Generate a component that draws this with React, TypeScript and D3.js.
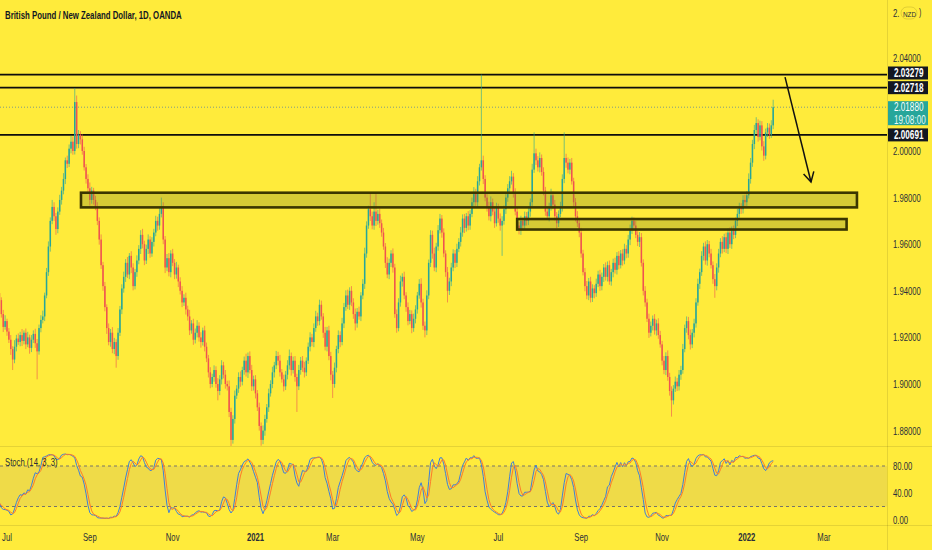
import React, { useMemo } from 'react';
import * as d3 from 'd3';

// ---------- DATA ----------
const START_DATE = '2020-06-25'; // first daily bar (weekdays only)
const firstOpen = 1.939;

const closes = [
  1.9360, 1.9300, 1.9245, 1.9270, 1.9225, 1.9190, 1.9150, 1.9105, 1.9160, 1.9195,
  1.9180, 1.9210, 1.9185, 1.9220, 1.9170, 1.9200, 1.9155, 1.9190, 1.9215, 1.9175,
  1.9140, 1.9240, 1.9275, 1.9290, 1.9380, 1.9480, 1.9590, 1.9700, 1.9760, 1.9720,
  1.9665, 1.9740, 1.9790, 1.9830, 1.9880, 1.9960, 1.9945, 2.0010, 2.0040, 2.0000,
  2.0210, 2.0030, 2.0070, 2.0050, 2.0000, 1.9930, 1.9880, 1.9840, 1.9790, 1.9830,
  1.9790, 1.9760, 1.9700, 1.9620, 1.9510, 1.9420, 1.9330, 1.9240, 1.9180, 1.9220,
  1.9150, 1.9180, 1.9120, 1.9220, 1.9320, 1.9410, 1.9460, 1.9520, 1.9470, 1.9550,
  1.9500, 1.9420, 1.9480, 1.9530, 1.9580, 1.9640, 1.9600, 1.9530, 1.9580, 1.9620,
  1.9560, 1.9610, 1.9650, 1.9700, 1.9680, 1.9730, 1.9760, 1.9620, 1.9500, 1.9540,
  1.9480, 1.9560, 1.9520, 1.9470, 1.9500, 1.9440, 1.9400, 1.9350, 1.9370, 1.9320,
  1.9290, 1.9230, 1.9260, 1.9190, 1.9220, 1.9250, 1.9200, 1.9180, 1.9230, 1.9160,
  1.9110, 1.9050, 1.9000, 1.9030, 1.9060, 1.9000, 1.8970, 1.9020, 1.9080, 1.9040,
  1.9000, 1.8990, 1.8880, 1.8760, 1.8850, 1.8950, 1.8980, 1.9030, 1.9010, 1.9060,
  1.9100, 1.9050, 1.9120, 1.9060, 1.8990, 1.9020, 1.8960, 1.8900, 1.8820, 1.8760,
  1.8800, 1.8850, 1.8900, 1.8960, 1.9000, 1.9050, 1.9080, 1.9120, 1.9100, 1.9050,
  1.9020, 1.8990, 1.9040, 1.9080, 1.9120, 1.9060, 1.9100, 1.9030, 1.8990, 1.9060,
  1.9100, 1.9070, 1.9050, 1.9100, 1.9160, 1.9200, 1.9180, 1.9240, 1.9290, 1.9270,
  1.9340, 1.9290, 1.9220, 1.9160, 1.9230, 1.9120, 1.9040, 1.9000, 1.9070, 1.9150,
  1.9210, 1.9180, 1.9260, 1.9330, 1.9380, 1.9340, 1.9400, 1.9350, 1.9300, 1.9260,
  1.9310, 1.9290, 1.9380, 1.9430, 1.9560, 1.9680, 1.9750, 1.9720, 1.9680, 1.9740,
  1.9700, 1.9730, 1.9690, 1.9650, 1.9590, 1.9520, 1.9470, 1.9520, 1.9560, 1.9500,
  1.9300, 1.9240, 1.9350, 1.9440, 1.9460, 1.9380, 1.9330, 1.9270, 1.9300, 1.9240,
  1.9280, 1.9320, 1.9380, 1.9430, 1.9350, 1.9250, 1.9230, 1.9380, 1.9520, 1.9640,
  1.9560, 1.9500, 1.9590, 1.9660, 1.9710, 1.9650, 1.9560, 1.9480, 1.9400, 1.9440,
  1.9500, 1.9560, 1.9520, 1.9580, 1.9610, 1.9650, 1.9710, 1.9670, 1.9720, 1.9680,
  1.9730, 1.9780, 1.9820, 1.9780, 1.9870, 1.9930, 1.9960, 1.9880, 1.9800, 1.9760,
  1.9720, 1.9780, 1.9740, 1.9690, 1.9760, 1.9710, 1.9680, 1.9700, 1.9750, 1.9800,
  1.9840, 1.9870, 1.9890, 1.9820, 1.9740, 1.9680, 1.9660, 1.9700, 1.9680, 1.9720,
  1.9700, 1.9740, 1.9780, 1.9920, 1.9990, 1.9960, 1.9930, 1.9970, 1.9910, 1.9830,
  1.9740, 1.9720, 1.9760, 1.9810, 1.9770, 1.9720, 1.9690, 1.9730, 1.9760, 1.9880,
  1.9970, 1.9950, 1.9920, 1.9950, 1.9870, 1.9780, 1.9720, 1.9690, 1.9650, 1.9560,
  1.9480, 1.9420, 1.9380, 1.9440, 1.9370, 1.9410, 1.9390, 1.9430, 1.9470, 1.9420,
  1.9460, 1.9500, 1.9460, 1.9510, 1.9440, 1.9480, 1.9520, 1.9490, 1.9550, 1.9510,
  1.9560, 1.9530, 1.9580, 1.9560, 1.9620, 1.9660, 1.9700, 1.9680, 1.9640, 1.9610,
  1.9630, 1.9520, 1.9400, 1.9350, 1.9280, 1.9220, 1.9250, 1.9280, 1.9230, 1.9260,
  1.9210, 1.9170, 1.9100, 1.9060, 1.9120, 1.9030, 1.8970, 1.8930, 1.8980, 1.9010,
  1.8990, 1.9040, 1.9060, 1.9150, 1.9240, 1.9270, 1.9210, 1.9170, 1.9220, 1.9260,
  1.9350, 1.9430, 1.9480, 1.9550, 1.9590, 1.9530, 1.9600, 1.9560, 1.9510, 1.9450,
  1.9420, 1.9500, 1.9560, 1.9610, 1.9580, 1.9630, 1.9580, 1.9650, 1.9600, 1.9660,
  1.9640, 1.9700, 1.9730, 1.9760, 1.9750, 1.9790, 1.9780, 1.9810, 1.9880, 1.9950,
  2.0030, 2.0090, 2.0120, 2.0060, 2.0110, 2.0020, 1.9980, 2.0080, 2.0100, 2.0070,
  2.0110, 2.0188,
];

// upper / lower wick lengths in pips (0.0001)
const upWick = [
  30, 12, 18, 25, 10, 15, 20, 12, 28, 16, 22, 14, 26, 10, 18, 24, 12, 20, 15, 22,
  18, 15, 20, 25, 12, 18, 22, 15, 30, 20, 14, 18, 22, 16, 25, 12, 20, 18, 26, 22,
  60, 28, 20, 15, 22, 18, 14, 20, 25, 16, 12, 18, 20, 15, 22, 14, 18, 12, 20, 16,
  24, 18, 12, 20, 15, 18, 22, 16, 25, 12, 20, 18, 14, 22, 16, 20, 26, 15, 18, 22,
  14, 20, 16, 22, 18, 25, 40, 20, 15, 18, 22, 14, 20, 16, 24, 12, 18, 20, 15, 22,
  16, 28, 14, 20, 18, 24, 15, 22, 12, 20, 18, 15, 22, 14, 20, 16, 25, 18, 22, 15,
  20, 14, 25, 18, 16, 22, 15, 20, 24, 14, 18, 30, 15, 20, 22, 16, 18, 14, 20, 15,
  22, 18, 14, 20, 16, 24, 15, 22, 18, 25, 14, 20, 16, 22, 28, 15, 18, 20, 14, 22,
  16, 20, 25, 14, 18, 22, 15, 20, 24, 16, 22, 18, 14, 25, 15, 20, 18, 16, 22, 14,
  20, 16, 24, 18, 22, 25, 15, 20, 18, 24, 16, 22, 14, 20, 25, 18, 15, 70, 20, 40,
  80, 18, 22, 16, 20, 15, 24, 18, 14, 22, 16, 20, 18, 25, 15, 22, 14, 20, 18, 16,
  22, 18, 15, 20, 24, 16, 18, 22, 14, 20, 18, 25, 16, 22, 20, 15, 18, 14, 22, 16,
  20, 18, 15, 22, 16, 24, 18, 20, 14, 22, 16, 20, 25, 18, 22, 15, 368, 20, 16, 18,
  22, 25, 16, 20, 18, 14, 22, 20, 16, 24, 18, 22, 25, 15, 20, 18, 16, 22, 14, 20,
  18, 22, 16, 25, 90, 20, 18, 24, 15, 20, 16, 22, 18, 28, 16, 20, 18, 15, 22, 20,
  110, 18, 22, 16, 20, 15, 18, 22, 14, 20, 16, 18, 22, 15, 20, 18, 14, 22, 16, 20,
  18, 15, 22, 16, 20, 14, 18, 22, 16, 20, 15, 18, 22, 16, 20, 24, 18, 15, 20, 16,
  22, 18, 15, 20, 16, 22, 18, 14, 20, 16, 22, 18, 15, 20, 16, 24, 18, 20, 15, 22,
  16, 20, 18, 22, 15, 20, 18, 24, 16, 20, 18, 22, 15, 20, 16, 22, 18, 14, 20, 16,
  22, 18, 20, 16, 24, 15, 20, 18, 22, 16, 20, 14, 22, 18, 16, 20, 22, 18, 24, 20,
  18, 22, 25, 16, 20, 18, 22, 16, 20, 18, 22, 32,
];
const downWick = [
  20, 15, 22, 12, 18, 14, 25, 45, 16, 20, 12, 18, 22, 15, 20, 12, 25, 18, 14, 20,
  120, 14, 18, 15, 20, 12, 16, 22, 14, 20, 25, 18, 14, 20, 16, 22, 18, 14, 20, 16,
  15, 20, 18, 22, 16, 14, 20, 18, 24, 16, 20, 14, 18, 22, 16, 20, 18, 25, 14, 20,
  18, 22, 50, 16, 14, 20, 18, 22, 15, 20, 24, 18, 14, 20, 16, 22, 18, 20, 15, 22,
  18, 14, 20, 16, 22, 18, 15, 20, 24, 16, 18, 22, 14, 20, 18, 24, 16, 20, 15, 22,
  18, 20, 14, 22, 16, 20, 18, 24, 15, 20, 16, 22, 18, 14, 20, 16, 40, 18, 22, 16,
  20, 18, 22, 30, 16, 20, 14, 18, 22, 16, 20, 18, 24, 15, 20, 18, 22, 16, 20, 25,
  18, 22, 16, 20, 14, 18, 22, 16, 20, 18, 14, 22, 16, 20, 18, 24, 15, 20, 110, 16,
  20, 18, 22, 16, 14, 20, 18, 22, 16, 20, 18, 14, 22, 16, 20, 18, 24, 60, 16, 20,
  18, 22, 14, 20, 16, 18, 22, 16, 20, 30, 18, 14, 20, 16, 22, 18, 14, 20, 16, 18,
  22, 16, 20, 18, 14, 22, 16, 20, 18, 22, 16, 20, 14, 18, 22, 16, 20, 18, 14, 22,
  16, 20, 18, 14, 22, 18, 30, 20, 16, 18, 22, 16, 20, 18, 14, 22, 16, 20, 50, 18,
  20, 16, 22, 18, 14, 20, 18, 22, 16, 20, 18, 14, 22, 16, 20, 18, 14, 22, 16, 20,
  18, 22, 16, 20, 14, 18, 22, 130, 16, 20, 18, 22, 14, 20, 16, 22, 18, 20, 16, 14,
  20, 18, 22, 16, 14, 20, 18, 22, 16, 20, 18, 14, 22, 16, 20, 18, 22, 16, 14, 20,
  18, 22, 16, 20, 14, 18, 22, 16, 20, 18, 14, 22, 16, 20, 20, 18, 22, 16, 14, 20,
  18, 22, 16, 20, 14, 18, 22, 16, 20, 18, 14, 22, 16, 20, 18, 24, 16, 20, 14, 18,
  22, 16, 20, 18, 14, 22, 16, 20, 18, 22, 16, 14, 20, 18, 22, 16, 20, 70, 18, 14,
  20, 18, 22, 16, 14, 20, 18, 22, 16, 20, 18, 14, 22, 16, 20, 18, 22, 16, 14, 20,
  50, 18, 22, 16, 20, 14, 18, 22, 16, 20, 18, 14, 22, 16, 20, 18, 22, 16, 14, 20,
  18, 22, 16, 20, 14, 18, 22, 16, 20, 18, 14, 16,
];

const levelLines = [2.03279, 2.02718, 2.00691];
const lastPrice = 2.0188;
const countdown = '19:08:00';
const priceTicks = [2.04, 2.0, 1.98, 1.96, 1.94, 1.92, 1.9, 1.88];
const stochTicks = [80, 40, 0];
const stochBands = [80, 20];
const monthNames = ['Jan', 'Feb', 'Mar', 'Apr', 'May', 'Jun', 'Jul', 'Aug', 'Sep', 'Oct', 'Nov', 'Dec'];
// zones: bar index range + price range
const zoneStarts = [43.3, 275];
const zoneEnds = [455.5, 450];
const zoneTops = [1.9821, 1.9708];
const zoneBottoms = [1.9758, 1.9663];
// arrow: bar index / price of start and tip
const arrowFrom = [417.3, 2.0317];
const arrowTo = [431.1, 1.9867];

// ---------- LAYOUT ----------
const W = 932;
const H = 550;
const PLOT_R = 887;
const MAIN_B = 446;
const STOCH_T = 446;
const STOCH_B = 525;
const BG = '#ffeb3b';
const UP = '#26a69a';
const DOWN = '#ef5350';
const TXT = '#2a2e39';
const FONT = "'Liberation Sans', Arial, sans-serif";

function T({ x, y, s = 0.7, size = 11, anchor = 'start', fill = TXT, weight = 'normal', children }: any) {
  return (
    <text
      transform={`translate(${x},${y}) scale(${s},1)`}
      fontSize={size}
      textAnchor={anchor}
      fill={fill}
      fontWeight={weight}
      fontFamily={FONT}
    >
      {children}
    </text>
  );
}

export default function App() {
  const model = useMemo(() => {
    const n = closes.length;
    // weekday calendar
    const dates: Date[] = [];
    const d = new Date(START_DATE + 'T00:00:00');
    while (dates.length < n + 60) {
      const wd = d.getDay();
      if (wd !== 0 && wd !== 6) dates.push(new Date(d));
      d.setDate(d.getDate() + 1);
    }
    const opens = closes.map((c, i) => (i === 0 ? firstOpen : closes[i - 1]));
    const highs = closes.map((c, i) => Math.max(opens[i], c) + upWick[i] * 1e-4);
    const lows = closes.map((c, i) => Math.min(opens[i], c) - downWick[i] * 1e-4);

    // Stochastic (14, 3, 3)
    const raw = closes.map((c, i) => {
      const s = Math.max(0, i - 13);
      const hh = d3.max(highs.slice(s, i + 1)) as number;
      const ll = d3.min(lows.slice(s, i + 1)) as number;
      return hh === ll ? 50 : (100 * (c - ll)) / (hh - ll);
    });
    const sma = (arr: number[], p: number) =>
      arr.map((_, i) => d3.mean(arr.slice(Math.max(0, i - p + 1), i + 1)) as number);
    const k = sma(raw, 3);
    const dd = sma(k, 3);

    // month labels
    const months: { i: number; label: string; year: boolean }[] = [];
    for (let i = 1; i < dates.length; i++) {
      const m = dates[i].getMonth();
      if (m !== dates[i - 1].getMonth() && m % 2 === 0) {
        months.push({ i, label: m === 0 ? String(dates[i].getFullYear()) : monthNames[m], year: m === 0 });
      }
    }
    return { n, opens, highs, lows, k, d: dd, months };
  }, []);

  const { n, opens, highs, lows, k, d, months } = model;

  const jul = months[0].i;
  const marLast = months[months.length - 1].i;
  const x = d3.scaleLinear().domain([jul, marLast]).range([7, 824]);
  const y = d3.scaleLinear().domain([1.88, 2.04]).range([430.6, 57.8]);
  const ys = d3.scaleLinear().domain([0, 100]).range([520, 452.5]);

  const kLine = d3.line<number>().x((_, i) => x(i)).y((v) => ys(v))(k) || '';
  const dLine = d3.line<number>().x((_, i) => x(i)).y((v) => ys(v))(d) || '';

  const candles = [];
  for (let i = 0; i < n; i++) {
    const o = opens[i];
    const c = closes[i];
    const col = c >= o ? UP : DOWN;
    const cx = x(i);
    const yTop = y(Math.max(o, c));
    const yBot = y(Math.min(o, c));
    candles.push(
      <g key={i}>
        <line x1={cx} x2={cx} y1={y(highs[i])} y2={y(lows[i])} stroke={col} strokeWidth={1} opacity={0.6} />
        <rect x={cx - 0.75} width={1.5} y={yTop} height={Math.max(0.8, yBot - yTop)} fill={col} />
      </g>
    );
  }

  const lastY = y(lastPrice);

  return (
    <svg width={W} height={H} style={{ position: 'absolute', left: 0, top: 0, display: 'block' }}>
      <defs>
        <clipPath id="mainClip">
          <rect x={0} y={0} width={PLOT_R} height={MAIN_B} />
        </clipPath>
        <clipPath id="stochClip">
          <rect x={0} y={STOCH_T} width={PLOT_R} height={STOCH_B - STOCH_T} />
        </clipPath>
      </defs>
      <rect x={0} y={0} width={W} height={H} fill={BG} />

      {/* separators */}
      <line x1={0} x2={W} y1={MAIN_B + 0.5} y2={MAIN_B + 0.5} stroke="rgba(0,0,0,0.1)" />
      <line x1={0} x2={W} y1={STOCH_B + 0.5} y2={STOCH_B + 0.5} stroke="rgba(0,0,0,0.1)" />
      <line x1={PLOT_R + 0.5} x2={PLOT_R + 0.5} y1={0} y2={H} stroke="rgba(0,0,0,0.1)" />

      {/* main pane */}
      <g clipPath="url(#mainClip)">
        <line x1={0} x2={PLOT_R} y1={lastY} y2={lastY} stroke="#7f9a86" strokeWidth={1} strokeDasharray="1 2" />
        {levelLines.map((p) => (
          <line key={p} x1={0} x2={PLOT_R} y1={y(p)} y2={y(p)} stroke="#0d0d0d" strokeWidth={1.7} />
        ))}
        {candles}
        {zoneStarts.map((s, i) => (
          <rect
            key={i}
            x={x(s)}
            y={y(zoneTops[i])}
            width={x(zoneEnds[i]) - x(s)}
            height={y(zoneBottoms[i]) - y(zoneTops[i])}
            fill="rgba(120,130,40,0.3)"
            stroke="#3b3600"
            strokeWidth={2.6}
          />
        ))}
        {(() => {
          const x1 = x(arrowFrom[0]);
          const y1 = y(arrowFrom[1]);
          const x2 = x(arrowTo[0]);
          const y2 = y(arrowTo[1]);
          const ang = Math.atan2(y2 - y1, x2 - x1);
          const L = 11;
          const a1 = ang + Math.PI - 0.5;
          const a2 = ang + Math.PI + 0.5;
          return (
            <g stroke="#111" strokeWidth={1.5} fill="none">
              <line x1={x1} y1={y1} x2={x2} y2={y2} />
              <polyline
                points={`${x2 + L * Math.cos(a1)},${y2 + L * Math.sin(a1)} ${x2},${y2} ${x2 + L * Math.cos(a2)},${y2 + L * Math.sin(a2)}`}
              />
            </g>
          );
        })()}
      </g>

      {/* title */}
      <T x={5} y={19} s={0.68} size={11.5} fill="#131722" weight="bold">British Pound / New Zealand Dollar, 1D, OANDA</T>

      {/* stoch pane */}
      <rect x={0} y={ys(stochBands[0])} width={PLOT_R} height={ys(stochBands[1]) - ys(stochBands[0])} fill="rgba(120,110,170,0.12)" />
      {stochBands.map((b) => (
        <line key={b} x1={0} x2={PLOT_R} y1={ys(b)} y2={ys(b)} stroke="#77746a" strokeDasharray="3 3" strokeWidth={1} />
      ))}
      <g clipPath="url(#stochClip)" fill="none">
        <path d={kLine} stroke="#3f7fd8" strokeWidth={1} />
        <path d={dLine} stroke="#ff7a2a" strokeWidth={1} />
      </g>
      <T x={5} y={466} s={0.7} size={11}>Stoch (14, 3, 3)</T>

      {/* price axis */}
      <T x={893} y={17} s={0.75} size={10.5}>2.</T>
      <rect x={901} y={7} width={16} height={12} rx={6} fill="none" stroke="rgba(0,0,0,0.12)" />
      <T x={903} y={16.5} s={0.8} size={8}>NZD</T>
      <T x={919} y={16} s={0.7} size={10}>)</T>
      {priceTicks.map((p) => (
        <T key={p} x={893} y={y(p) + 4} s={0.7} size={11}>{p.toFixed(5)}</T>
      ))}
      {levelLines.map((p, i) => {
        const cy = i === 0 ? 73 : y(p);
        return (
          <g key={p}>
            <rect x={PLOT_R + 1} y={cy - 6.5} width={40} height={13} fill="#131722" />
            <T x={894} y={cy + 4.2} s={0.68} size={12} fill="#fff" weight="bold">{p.toFixed(5)}</T>
          </g>
        );
      })}
      <rect x={PLOT_R + 1} y={lastY - 6} width={40} height={24} fill={UP} />
      <T x={894} y={lastY + 4} s={0.68} size={12} fill="#fff">{lastPrice.toFixed(5)}</T>
      <T x={894} y={lastY + 16.5} s={0.68} size={12} fill="#e8fbf7">{countdown}</T>

      {stochTicks.map((v) => (
        <T key={v} x={893} y={ys(v) + 4} s={0.7} size={11}>{v.toFixed(2)}</T>
      ))}

      {/* time axis */}
      {months.map((m) => (
        <T key={m.i} x={x(m.i)} y={541} s={0.7} size={11} anchor="middle" weight={m.year ? 'bold' : 'normal'}>{m.label}</T>
      ))}
    </svg>
  );
}
